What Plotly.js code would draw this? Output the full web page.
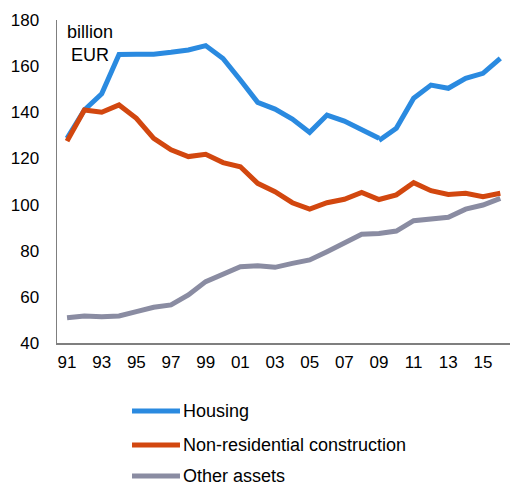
<!DOCTYPE html>
<html>
<head>
<meta charset="utf-8">
<script src="https://cdn.plot.ly/plotly-3.0.1.min.js"></script>
<style>html,body{margin:0;padding:0;background:#fff;}#chart{width:510px;height:486px;}</style>
</head>
<body>
<div id="chart"></div>
<script>
const years = [1991,1992,1993,1994,1995,1996,1997,1998,1999,2000,2001,2002,2003,2004,2005,2006,2007,2008,2009,2010,2011,2012,2013,2014,2015,2016];
const housingOldYears = years.slice(0, 19);
const housingOld = [128.7,141,148,165.1,165.2,165.2,166,167,168.9,163.3,154,144.3,141.4,137.1,131.3,138.8,136.2,132.7,128.7];
const housingNewYears = years.slice(18);
const housingNew = [127.8,133.1,146.1,151.8,150.4,154.7,156.9,163.4];
const nonResidential = [127.5,141,140,143.2,137.4,128.7,123.7,120.8,121.8,118.2,116.4,109.2,105.6,100.8,98,100.8,102.3,105.3,102.2,104.2,109.5,106,104.4,104.9,103.4,104.9];
const otherAssets = [50.9,51.7,51.4,51.7,53.6,55.5,56.5,60.8,66.6,69.8,73.1,73.5,72.8,74.5,76,79.6,83.2,87.1,87.5,88.5,93,94,94.5,98,99.8,102.7];
const xTickVals = [1991,1993,1995,1997,1999,2001,2003,2005,2007,2009,2011,2013,2015];
const xTickText = ['91','93','95','97','99','01','03','05','07','09','11','13','15'];
const seriesNames = ['Housing','Non-residential construction','Other assets'];
const colors = ['#2a8ae0','#d2470f','#8a8ca2'];

const font = {family: 'Liberation Sans, Arial, sans-serif', size: 17, color: '#000'};
const bigFont = {family: 'Liberation Sans, Arial, sans-serif', size: 18, color: '#000'};
const traces = [
  {x: housingOldYears, y: housingOld, name: seriesNames[0], mode: 'lines', line: {color: colors[0], width: 5}},
  {x: housingNewYears, y: housingNew, name: seriesNames[0], mode: 'lines', line: {color: colors[0], width: 5}},
  {x: years, y: nonResidential, name: seriesNames[1], mode: 'lines', line: {color: colors[1], width: 5}},
  {x: years, y: otherAssets, name: seriesNames[2], mode: 'lines', line: {color: colors[2], width: 5}}
];

// Legend drawn below the plot area (paper coordinates)
const legendY = [-0.2105, -0.3158, -0.4115];
const shapes = [];
const annotations = [{xref: 'paper', yref: 'paper', x: 0.073, y: 1.0, xanchor: 'center', yanchor: 'top', showarrow: false, align: 'center', text: 'billion<br>EUR', font: bigFont}];
seriesNames.forEach((n, i) => {
  shapes.push({type: 'line', xref: 'paper', yref: 'paper', x0: 0.1656, x1: 0.2715, y0: legendY[i], y1: legendY[i], line: {color: colors[i], width: 5}});
  annotations.push({xref: 'paper', yref: 'paper', x: 0.276, y: legendY[i], xanchor: 'left', yanchor: 'middle', showarrow: false, borderpad: 0, text: n, font: bigFont});
});

const layout = {
  width: 510, height: 486,
  margin: {l: 57, r: 0, t: 20, b: 143},
  paper_bgcolor: '#fff', plot_bgcolor: '#fff',
  font: font,
  showlegend: false,
  xaxis: {range: [1990.42, 2016.56], tickvals: xTickVals, ticktext: xTickText, showgrid: false, zeroline: false, showline: true, linecolor: '#7f7f7f', linewidth: 1.5, ticks: 'outside', ticklen: 3, tickcolor: 'rgba(0,0,0,0)', tickfont: font},
  yaxis: {range: [40, 180], dtick: 20, showgrid: false, zeroline: false, showline: true, linecolor: '#7f7f7f', linewidth: 1.5, ticks: 'outside', ticklen: 13, tickcolor: 'rgba(0,0,0,0)', tickfont: font},
  shapes: shapes,
  annotations: annotations
};
Plotly.newPlot('chart', traces, layout, {displayModeBar: false, staticPlot: true});
</script>
</body>
</html>
